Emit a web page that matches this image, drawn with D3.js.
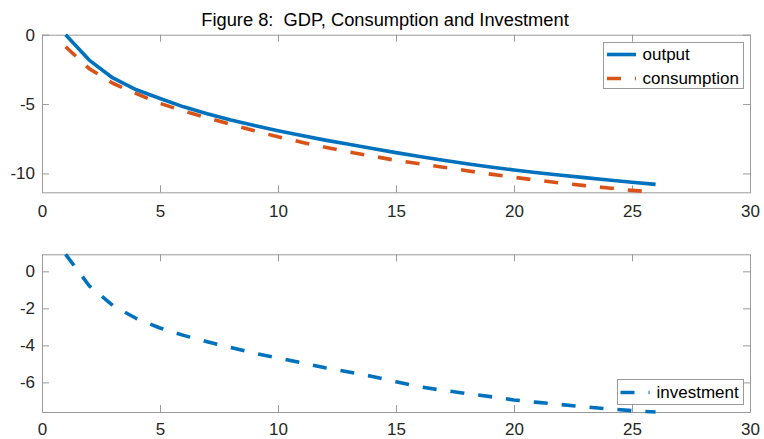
<!DOCTYPE html>
<html>
<head>
<meta charset="utf-8">
<script src="https://cdn.jsdelivr.net/npm/d3@7"></script>
<style>
  html, body { margin: 0; padding: 0; background: #fff; }
  svg { display: block; font-family: "Liberation Sans", Arial, Helvetica, sans-serif; }
</style>
</head>
<body>
<svg id="chart" width="764" height="439"></svg>
<script>
// Impulse responses, periods 1..26
const periods = d3.range(1, 27);
const output = [0, -1.83, -3.12, -3.97, -4.6, -5.2, -5.7, -6.15, -6.55, -6.92,
  -7.27, -7.6, -7.9, -8.2, -8.5, -8.78, -9.05, -9.3, -9.53, -9.75,
  -9.95, -10.13, -10.3, -10.47, -10.63, -10.79];
const consumption = [-0.87, -2.45, -3.5, -4.25, -4.95, -5.5, -6.0, -6.46, -6.93, -7.36,
  -7.75, -8.12, -8.45, -8.75, -9.06, -9.3, -9.55, -9.8, -10.05, -10.28,
  -10.49, -10.7, -10.88, -11.05, -11.22, -11.36];
const investment = [0.92, -0.78, -1.85, -2.55, -3.06, -3.46, -3.8, -4.12, -4.42, -4.68,
  -4.94, -5.21, -5.44, -5.68, -5.97, -6.24, -6.43, -6.6, -6.77, -6.95,
  -7.08, -7.2, -7.32, -7.43, -7.53, -7.6];

const xTicks = [0, 5, 10, 15, 20, 25, 30];
const yTicksTop = [-10, -5, 0];
const yTicksBottom = [-6, -4, -2, 0];

const titleText = "Figure 8:  GDP, Consumption and Investment";

const BLUE = "#0072BD", ORANGE = "#D95319";
const AXIS = "#9a9a9a", TEXT = "#262626";
const FS = 17;

const svg = d3.select("#chart");

svg.append("text")
  .attr("x", 385).attr("y", 25.5)
  .attr("text-anchor", "middle")
  .attr("fill", "#000")
  .style("font-size", "18.3px")
  .style("white-space", "pre")
  .text(titleText);

const x = d3.scaleLinear().domain([0, 30]).range([42, 750]);
const fmt = d => String(d);

function panel(top, bottom, series, yTicks, legend, xPad) {
  const all = series.flatMap(s => s.values);
  const y = d3.scaleLinear().domain(d3.extent(all)).range([bottom, top]);
  const g = svg.append("g");

  // axes box with ticks pointing inward on all four sides
  const tl = 7;
  const axB = d3.axisBottom(x).tickValues(xTicks).tickFormat(fmt).tickSizeInner(-tl).tickSizeOuter(0).tickPadding(xPad);
  const axT = d3.axisTop(x).tickValues(xTicks).tickSizeInner(-tl).tickSizeOuter(0).tickFormat("");
  const axL = d3.axisLeft(y).tickValues(yTicks).tickFormat(fmt).tickSizeInner(-tl).tickSizeOuter(0).tickPadding(7);
  const axR = d3.axisRight(y).tickValues(yTicks).tickSizeInner(-tl).tickSizeOuter(0).tickFormat("");

  const style = sel => {
    sel.selectAll("path, line").attr("stroke", AXIS).attr("stroke-width", 1);
    sel.selectAll("text").attr("fill", TEXT).style("font-size", FS + "px").attr("font-family", null);
  };
  g.append("g").attr("transform", `translate(0,${bottom})`).call(axB).call(style);
  g.append("g").attr("transform", `translate(0,${top})`).call(axT).call(style);
  g.append("g").attr("transform", `translate(${x(0)},0)`).call(axL).call(style);
  g.append("g").attr("transform", `translate(${x(30)},0)`).call(axR).call(style);

  const line = d3.line().x((d, i) => x(periods[i])).y(d => y(d));
  series.forEach(s => {
    g.append("path")
      .datum(s.values)
      .attr("fill", "none")
      .attr("stroke", s.color)
      .attr("stroke-width", 3.6)
      .attr("stroke-linejoin", "round")
      .attr("stroke-dasharray", s.dash || null)
      .attr("d", line);
  });

  // legend
  const lg = g.append("g");
  lg.append("rect")
    .attr("x", legend.x).attr("y", legend.y)
    .attr("width", legend.w).attr("height", legend.h)
    .attr("fill", "#fff").attr("stroke", AXIS).attr("stroke-width", 1);
  series.forEach((s, i) => {
    const ry = legend.y + legend.row0 + i * 24;
    lg.append("line")
      .attr("x1", legend.x + legend.lx0).attr("x2", legend.x + legend.lx0 + 29)
      .attr("y1", ry).attr("y2", ry)
      .attr("stroke", s.color).attr("stroke-width", 3.6)
      .attr("stroke-dasharray", s.dash || null);
    lg.append("text")
      .attr("x", legend.x + legend.tx).attr("y", ry)
      .attr("dy", "0.35em")
      .attr("fill", "#000")
      .style("font-size", FS + "px")
      .text(s.name);
  });
}

panel(34.7, 192.3, [
  { name: "output", values: output, color: BLUE },
  { name: "consumption", values: consumption, color: ORANGE, dash: "14,14" }
], yTicksTop, { x: 603.5, y: 42.5, w: 140, h: 46, row0: 12, lx0: 3.5, tx: 39 }, 13);

panel(254.3, 412, [
  { name: "investment", values: investment, color: BLUE, dash: "14,14" }
], yTicksBottom, { x: 617.5, y: 379.5, w: 126, h: 25, row0: 13, lx0: 3, tx: 39 }, 11);
</script>
</body>
</html>
